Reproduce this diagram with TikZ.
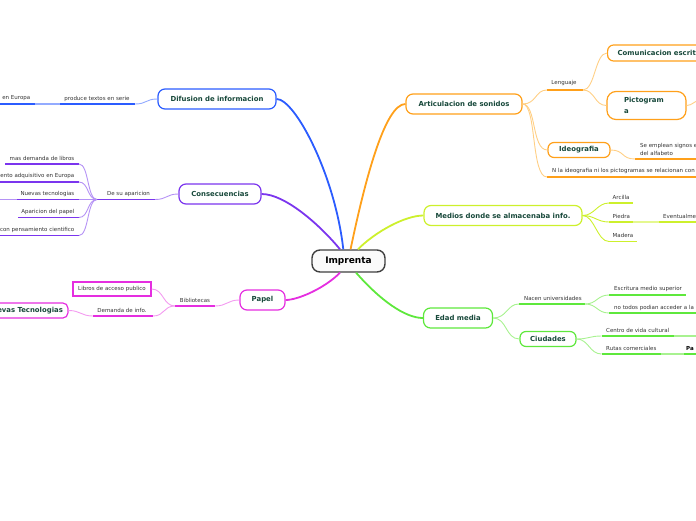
\documentclass[tikz,border=0pt]{standalone}
\usepackage{fontspec}
\setmainfont{DejaVu Sans}
\definecolor{cblue}{HTML}{2B5CFF}
\definecolor{cbluel}{HTML}{93ABFF}
\definecolor{cpur}{HTML}{7B35EE}
\definecolor{cpurl}{HTML}{B592F5}
\definecolor{cmag}{HTML}{E52EE0}
\definecolor{cmagl}{HTML}{F39AF0}
\definecolor{corg}{HTML}{FFA01A}
\definecolor{corgl}{HTML}{FFCF85}
\definecolor{cyel}{HTML}{CDF02C}
\definecolor{cyell}{HTML}{E5F88F}
\definecolor{cgrn}{HTML}{5EE83C}
\definecolor{cgrnl}{HTML}{A8F290}
\definecolor{ttxt}{HTML}{17483A}
\definecolor{ltxt}{HTML}{333333}
\begin{document}
\begin{tikzpicture}[x=1pt,y=-1pt,
  topic/.style={draw=#1, line width=1.2pt, rounded corners=7pt, fill=white, text=ttxt,
    font=\bfseries\fontsize{6.9}{8}\selectfont, inner sep=0pt, minimum height=20pt},
  lab/.style={text=ltxt, font=\fontsize{5.5}{6.6}\selectfont, inner sep=0pt},
  ul/.style={draw=#1, line width=1.8pt},
  link/.style={draw=#1, line width=0.9pt},
  trunk/.style={draw=#1, line width=1.8pt},
]
\useasboundingbox (0,0) rectangle (696,520);
\clip (0,0) rectangle (696,520);

% ---------- root ----------
\node[draw=black!75, line width=1.4pt, rounded corners=8pt, fill=black!2,
  font=\bfseries\fontsize{9}{10}\selectfont, text=black,
  minimum width=73pt, minimum height=22pt, inner sep=0pt] (imp) at (348.5,261) {Imprenta};

% ---------- main topics ----------
\node[topic=cblue, minimum width=118pt] (dif) at (217,99) {Difusion de informacion};
\node[topic=cpur, minimum width=82pt] (cons) at (220,194) {Consecuencias};
\node[topic=cmag, minimum width=45pt] (pap) at (262.5,300) {Papel};
\node[topic=corg, minimum width=116pt] (art) at (464,104) {Articulacion de sonidos};
\node[topic=cyel, minimum width=158pt] (med) at (503,215.5) {Medios donde se almacenaba info.};
\node[topic=cgrn, minimum width=69pt] (edad) at (458,318) {Edad media};

\draw[trunk=cblue] (imp.114) .. controls (335,175) and (295,99) .. (dif.east);
\draw[trunk=cpur] (imp.126) .. controls (320,225) and (285,194) .. (cons.east);
\draw[trunk=cmag] (imp.234) .. controls (325,288) and (298,300) .. (pap.east);
\draw[trunk=corg] (imp.80) .. controls (365,180) and (385,104) .. (art.west);
\draw[trunk=cyel] (imp.51) .. controls (375,232) and (405,215.5) .. (med.west);
\draw[trunk=cgrn] (imp.-57) .. controls (380,300) and (405,318) .. (edad.west);

% ---------- Difusion ----------
\node[lab] (d1) at (97,98.5) {produce textos en serie};
\coordinate (d1L) at (60,104); \coordinate (d1R) at (135,104);
\draw[ul=cblue] (d1L) -- (d1R);
\draw[link=cbluel] (dif.west) .. controls +(-12,0) and +(12,0) .. (d1R);
\node[lab, anchor=east] (d2) at (30.5,98.5) {en Europa};
\coordinate (d2L) at (-5,104); \coordinate (d2R) at (35,104);
\draw[ul=cblue] (d2L) -- (d2R);
\draw[cbluel, line width=1.8pt] (d2R) -- (d1L);

% ---------- Consecuencias ----------
\node[lab] (c0) at (128.5,193.5) {De su aparicion};
\coordinate (c0L) at (97,199.5); \coordinate (c0R) at (155,199.5);
\draw[ul=cpur] (c0L) -- (c0R);
\draw[link=cpurl] (cons.west) .. controls +(-12,0) and +(12,0) .. (c0R);

\node[lab, anchor=east] (c1) at (74.5,158) {mas demanda de libros};
\coordinate (c1L) at (5,164); \coordinate (c1R) at (79,164);
\node[lab, anchor=east] (c2) at (74.5,176) {ento adquisitivo en Europa};
\coordinate (c2L) at (-5,182); \coordinate (c2R) at (79,182);
\node[lab, anchor=east] (c3) at (74.5,194) {Nuevas tecnologias};
\coordinate (c3L) at (17,199.5); \coordinate (c3R) at (79,199.5);
\coordinate (c3out) at (-5,199.5);
\node[lab, anchor=east] (c4) at (74.5,212) {Aparicion del papel};
\coordinate (c4L) at (18,217.5); \coordinate (c4R) at (79,217.5);
\node[lab, anchor=east] (c5) at (74.5,230) {con pensamiento cientifico};
\coordinate (c5L) at (-5,235.5); \coordinate (c5R) at (79,235.5);
\foreach \i in {1,...,5}{
  \draw[ul=cpur] (c\i L) -- (c\i R);
  \draw[link=cpurl] (c0L) .. controls +(-10,0) and +(10,0) .. (c\i R);
}
\draw[cpurl, line width=1.8pt] (c3L) -- (c3out);

% ---------- Papel ----------
\node[lab] (p0) at (195,300) {Bibliotecas};
\coordinate (p0L) at (175,306); \coordinate (p0R) at (215,306);
\draw[ul=cmag] (p0L) -- (p0R);
\draw[link=cmagl] (pap.west) .. controls +(-12,0) and +(12,0) .. (p0R);
\node[lab, draw=cmag, line width=1.3pt, fill=white, minimum width=78pt, minimum height=14pt] (p1) at (112,289) {Libros de acceso publico};
\draw[link=cmagl] (p0L) .. controls +(-12,0) and +(12,0) .. (p1.east);
\node[lab] (p2) at (122,310) {Demanda de info.};
\coordinate (p2L) at (93,316); \coordinate (p2R) at (153,316);
\draw[ul=cmag] (p2L) -- (p2R);
\draw[link=cmagl] (p0L) .. controls +(-12,0) and +(12,0) .. (p2R);
\node[topic=cmag, anchor=east, minimum height=15pt, rounded corners=5pt, text width=70pt,
  align=right, inner xsep=5pt] (p3) at (68.5,310.5) {evas Tecnologias};
\draw[link=cmagl] (p2L) .. controls +(-12,0) and +(12,0) .. (p3.east);

% ---------- Articulacion ----------
\node[lab] (a1) at (564,83) {Lenguaje};
\coordinate (a1L) at (547,90); \coordinate (a1R) at (583,90);
\draw[ul=corg] (a1L) -- (a1R);
\draw[link=corgl] (art.east) .. controls +(14,0) and +(-12,0) .. (a1L);
\node[topic=corg, anchor=west, minimum height=16pt, rounded corners=6pt, text width=90pt,
  align=left, inner xsep=10pt] (a2) at (607,53) {Comunicacion escrit};
\draw[link=corgl] (a1R) .. controls +(12,0) and +(-12,0) .. (a2.west);
\node[topic=corg, minimum height=28pt, rounded corners=9pt, text width=45pt, align=left,
  inner xsep=17pt, font=\bfseries\fontsize{6.9}{11}\selectfont] (a3) at (646.5,105.5) {Pictogram\\a};
\draw[link=corgl] (a1R) .. controls +(12,0) and +(-12,0) .. (a3.west);
\coordinate (a3out) at (700,100.5);
\draw[link=corgl] (a3.east) .. controls +(6,0) and +(-6,0) .. (a3out);
\node[topic=corg, minimum width=62pt, minimum height=15pt, rounded corners=6pt] (a4) at (579,150) {Ideografia};
\draw[link=corgl] (art.east) .. controls +(14,0) and +(-16,0) .. (a4.west);
\node[lab, anchor=west, align=left, font=\fontsize{5.5}{7.6}\selectfont] (a5) at (640,149.5) {Se emplean signos e\\del alfabeto};
\coordinate (a5L) at (635,159); \coordinate (a5R) at (700,159);
\draw[ul=corg] (a5L) -- (a5R);
\draw[link=corgl] (a4.east) .. controls +(14,0) and +(-14,0) .. (a5L);
\node[lab, anchor=west] (a6) at (552,171) {N la ideografia ni los pictogramas se relacionan con};
\coordinate (a6L) at (547,177); \coordinate (a6R) at (700,177);
\draw[ul=corg] (a6L) -- (a6R);
\draw[link=corgl] (art.east) .. controls +(14,0) and +(-16,0) .. (a6L);

% ---------- Medios ----------
\node[lab, anchor=west] (m1) at (612.5,197) {Arcilla};
\coordinate (m1L) at (609,203); \coordinate (m1R) at (633,203);
\node[lab, anchor=west] (m2) at (612.5,216) {Piedra};
\coordinate (m2L) at (609,222); \coordinate (m2R) at (633,222);
\node[lab, anchor=west] (m4) at (612.5,235) {Madera};
\coordinate (m4L) at (609,241.5); \coordinate (m4R) at (637,241.5);
\foreach \i in {1,2,4}{
  \draw[ul=cyel] (m\i L) -- (m\i R);
  \draw[link=cyel] (med.east) .. controls +(12,0) and +(-12,0) .. (m\i L);
}
\node[lab, anchor=west] (m3) at (663,216) {Eventualme};
\coordinate (m3L) at (659,222); \coordinate (m3R) at (700,222);
\draw[ul=cyel] (m3L) -- (m3R);
\draw[cyell, line width=1.8pt] (m2R) -- (m3L);

% ---------- Edad media ----------
\node[lab, anchor=west] (e1) at (524,298) {Nacen universidades};
\coordinate (e1L) at (519,304); \coordinate (e1R) at (585,304);
\draw[ul=cgrn] (e1L) -- (e1R);
\draw[link=cgrnl] (edad.east) .. controls +(14,0) and +(-12,0) .. (e1L);
\node[lab, anchor=west] (e2) at (614,289) {Escritura medio superior};
\coordinate (e2L) at (609,295); \coordinate (e2R) at (686,295);
\node[lab, anchor=west] (e3) at (614,307.5) {no todos podian acceder a la i};
\coordinate (e3L) at (609,313); \coordinate (e3R) at (700,313);
\foreach \i in {2,3}{
  \draw[ul=cgrn] (e\i L) -- (e\i R);
  \draw[link=cgrnl] (e1R) .. controls +(12,0) and +(-12,0) .. (e\i L);
}
\node[topic=cgrn, minimum width=56pt, minimum height=15pt, rounded corners=6pt] (ciud) at (548,339) {Ciudades};
\draw[link=cgrnl] (edad.east) .. controls +(14,0) and +(-14,0) .. (ciud.west);
\node[lab, anchor=west] (e4) at (606,330) {Centro de vida cultural};
\coordinate (e4L) at (601.5,336); \coordinate (e4R) at (674,336);
\coordinate (e4out) at (700,336);
\node[lab, anchor=west] (e5) at (606,348.5) {Rutas comerciales};
\coordinate (e5L) at (601.5,354); \coordinate (e5R) at (660.5,354);
\foreach \i in {4,5}{
  \draw[ul=cgrn] (e\i L) -- (e\i R);
  \draw[link=cgrnl] (ciud.east) .. controls +(12,0) and +(-12,0) .. (e\i L);
}
\draw[cgrnl, line width=1.8pt] (e4R) -- (e4out);
\node[lab, anchor=west, text=black, font=\bfseries\fontsize{5.5}{6.6}\selectfont] (e6) at (686,348.5) {Pa};
\coordinate (e6L) at (684,354); \coordinate (e6R) at (700,354);
\draw[ul=cgrn] (e6L) -- (e6R);
\draw[cgrnl, line width=1.8pt] (e5R) -- (e6L);
\end{tikzpicture}
\end{document}
